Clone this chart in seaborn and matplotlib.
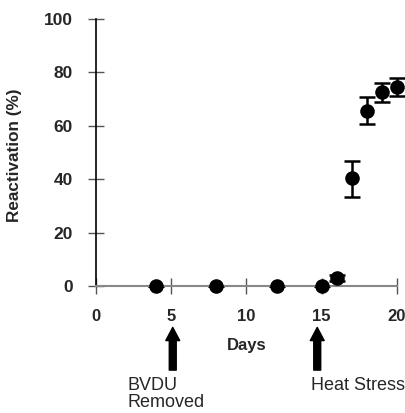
import matplotlib
matplotlib.use("Agg")
import matplotlib.pyplot as plt
import seaborn as sns
import numpy as np
import pandas as pd

days = [4, 8, 12, 15, 16, 17, 18, 19, 20]
reactivation = [0, 0, 0, 0, 3, 40.4, 65.5, 72.5, 74.5]
err_low = [0, 0, 0, 0, 1, 7, 5, 3.5, 3.5]
err_high = [0, 0, 0, 0, 1, 6.5, 5.3, 3.5, 3.5]
x_ticks = [0, 5, 10, 15, 20]
y_ticks = [0, 20, 40, 60, 80, 100]
arrow_days = [5.1, 14.7]
arrow_labels = ["BVDU\nRemoved", "Heat Stress"]

df = pd.DataFrame({"Days": days, "Reactivation": reactivation})

sns.set_style("ticks")
plt.rcParams['font.family'] = ['Liberation Sans', 'DejaVu Sans']

fig = plt.figure(figsize=(4.06, 4.13), dpi=100)
ax = fig.add_axes([96/406, 1-286/413, (397-96)/406, (286-19)/413])

ax.errorbar(days, reactivation, yerr=[err_low, err_high], fmt='none',
            ecolor='black', elinewidth=1.8, capsize=6, capthick=1.8, clip_on=False, zorder=2)
sns.scatterplot(data=df, x="Days", y="Reactivation", ax=ax, color='black',
                s=110, edgecolor='black', linewidth=0, clip_on=False, zorder=3, legend=False)

ax.set_xlim(0, 20)
ax.set_ylim(0, 100)
ax.set_xticks(x_ticks)
ax.set_yticks(y_ticks)
ax.set_xticklabels([str(v) for v in x_ticks], fontweight='bold', fontsize=12)
ax.set_yticklabels([str(v) for v in y_ticks], fontweight='bold', fontsize=12.5)
for s in ['top', 'right']:
    ax.spines[s].set_visible(False)
ax.spines['left'].set_color('black')
ax.spines['left'].set_linewidth(1.2)
ax.spines['bottom'].set_color('#888888')
ax.spines['bottom'].set_linewidth(1.5)
ax.tick_params(axis='y', direction='inout', length=11, width=1, color='#555555', pad=11)
ax.tick_params(axis='x', direction='inout', length=11, width=1, color='#555555', pad=11)
ax.set_xlabel("Days", fontweight='bold', fontsize=12, labelpad=10)
ax.set_ylabel("Reactivation (%)", fontweight='bold', fontsize=12.3, labelpad=22)
ax.yaxis.set_label_coords(-0.245, 0.49)

for d in arrow_days:
    ax.annotate("", xy=(d, -15.5), xytext=(d, -31.5), xycoords='data', textcoords='data',
                arrowprops=dict(arrowstyle='simple,head_length=0.95,head_width=1.0,tail_width=0.5',
                                color='black', shrinkA=0, shrinkB=0), annotation_clip=False)
ax.text(2.1, -34, arrow_labels[0], ha='left', va='top', fontsize=13, linespacing=1.0, clip_on=False)
ax.text(14.3, -34, arrow_labels[1], ha='left', va='top', fontsize=13, clip_on=False)

fig.savefig("out.png", dpi=100)
